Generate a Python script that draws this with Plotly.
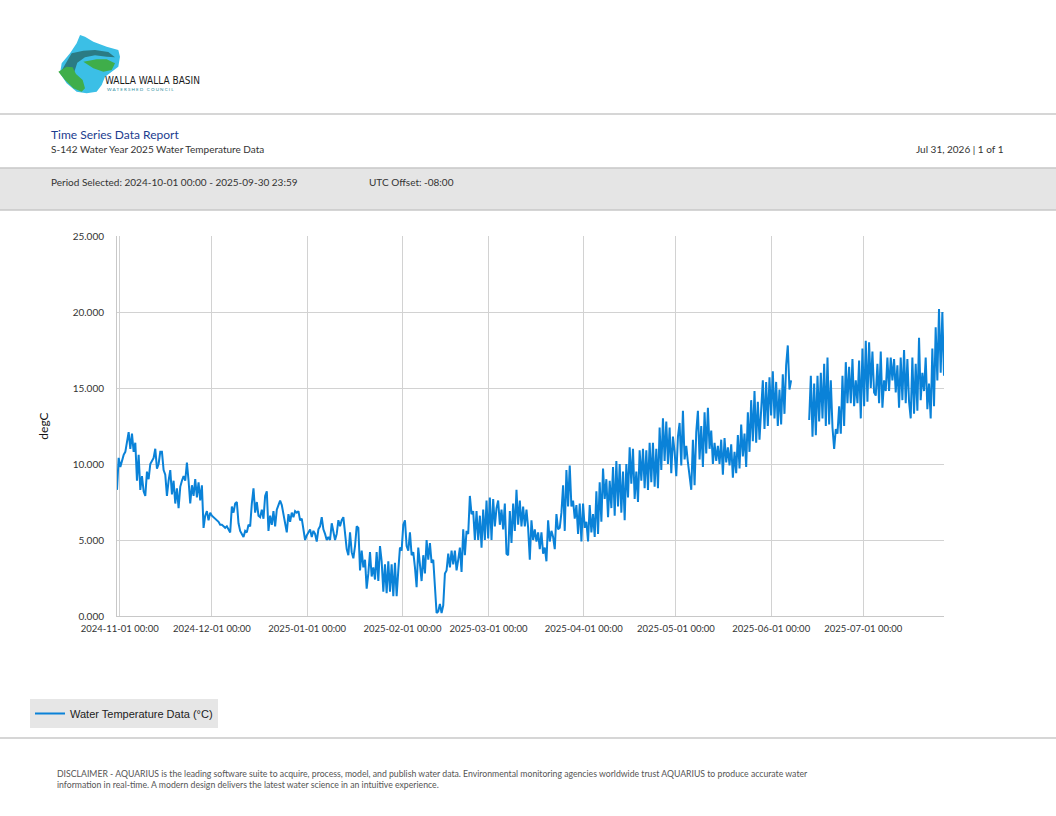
import pandas as pd
import plotly.graph_objects as go

# water temperature (degC) at ~13 h steps
seg1_start = "2024-10-31 03:00"
seg1_values = [
    8.3, 10.4, 9.8, 10.3, 10.6, 10.8, 11.5, 12.1, 11.0, 12.0, 10.8, 11.4, 8.9, 10.6, 8.3, 9.2,
    8.2, 7.9, 9.5, 9.0, 10.0, 10.2, 10.4, 11.0, 9.7, 10.0, 10.8, 10.8, 9.6, 9.3, 7.9, 8.9,
    9.6, 8.0, 8.9, 7.4, 8.4, 7.1, 8.5, 8.9, 9.2, 8.9, 10.1, 8.9, 7.4, 8.6, 7.9, 9.0,
    7.8, 8.8, 7.6, 8.6, 5.8, 6.6, 6.9, 6.3, 6.8, 6.6, 6.5, 6.4, 6.3, 6.2, 6.0, 6.0,
    5.9, 5.8, 5.9, 5.7, 5.5, 7.2, 6.8, 7.4, 7.5, 6.1, 5.6, 5.4, 5.2, 5.6, 5.5, 6.0,
    5.9, 7.4, 8.4, 6.8, 7.5, 6.6, 6.5, 7.0, 6.4, 7.9, 8.2, 5.6, 6.6, 6.0, 6.9, 5.9,
    7.0, 7.3, 7.6, 7.3, 6.7, 6.1, 5.5, 6.7, 6.2, 6.8, 6.5, 6.9, 6.8, 6.9, 6.3, 6.4,
    5.6, 5.0, 5.3, 5.5, 5.7, 5.2, 5.6, 5.4, 4.9, 5.7, 5.9, 6.5, 5.7, 5.4, 5.0, 5.2,
    5.0, 6.1, 5.4, 5.0, 5.4, 6.3, 5.9, 6.3, 6.5, 5.5, 4.4, 4.0, 5.5, 4.2, 3.8, 4.6,
    5.9, 5.8, 3.0, 4.3, 3.2, 3.7, 1.8, 2.8, 4.2, 2.6, 3.2, 2.4, 4.2, 2.3, 4.6, 3.6,
    1.6, 3.4, 1.5, 3.6, 1.6, 3.4, 1.3, 3.5, 1.3, 3.0, 4.5, 4.3, 6.0, 6.3, 4.6, 4.3,
    5.5, 4.0, 4.2, 3.2, 1.9, 4.5, 3.5, 2.3, 4.0, 2.8, 5.0, 3.7, 4.8, 3.5, 3.7, 1.8,
    0.2, 0.3,
    0.8, 0.2, 0.7, 2.8, 3.0, 4.1, 3.2, 4.3, 3.4, 4.3, 3.0, 3.7, 4.5, 2.9, 5.7, 4.0,
    5.6, 5.4, 7.9, 6.7, 6.9, 5.0, 6.9, 5.0, 6.6, 4.5, 7.0, 5.0, 7.6, 5.1, 7.8, 5.0,
    7.7, 5.9, 7.1, 7.6, 6.0, 7.0, 5.7, 7.4, 4.1, 4.0, 6.9, 4.8, 7.4, 5.6, 8.3, 6.0,
    7.6, 5.9, 7.2, 5.9, 7.0, 5.8, 3.7, 6.3, 5.0, 5.7, 4.9, 5.5, 4.4, 5.5, 4.1, 4.5,
    3.6, 6.3, 4.9, 5.6, 5.2, 4.4, 6.7, 5.7, 5.8, 6.8, 8.6, 5.6, 9.6, 7.2, 9.9, 7.2,
    7.6, 6.4, 7.3, 5.4, 7.4, 4.9, 7.4, 5.8, 6.2, 4.9, 7.3, 5.5, 6.7, 5.2, 8.2, 5.4,
    8.8, 6.2, 9.7, 7.7, 9.0, 6.5, 8.9, 7.1, 9.8, 6.6, 10.2, 7.2, 10.0, 6.8, 9.5, 6.3,
    10.0, 7.8, 11.1, 8.7, 11.0, 7.7, 9.5, 7.5, 10.9, 8.9, 11.0, 8.4, 10.9, 8.3, 11.4, 8.8,
    11.4, 8.5, 11.0, 8.4, 12.4, 9.6, 13.0, 10.2, 12.8, 10.0, 12.4, 9.4, 11.8, 10.8, 9.2, 11.8,
    12.7, 9.9, 13.5, 10.3, 11.2, 10.1, 9.0, 8.3, 11.6, 8.6, 12.1, 13.5, 10.3, 12.5, 9.8, 13.4,
    10.7, 13.7, 11.0, 12.2, 10.0, 11.4, 10.2, 11.2, 10.0, 11.6, 9.3, 11.7, 10.1, 11.1, 9.9, 11.3,
    9.1, 10.8, 9.4, 11.9, 9.7, 12.6, 10.5, 12.0, 9.8, 13.4, 10.8, 14.2, 11.5, 14.8, 11.4, 14.1,
    11.6, 14.0, 15.5, 12.3, 15.4, 12.5, 15.7, 13.2, 16.1, 13.0, 15.4, 12.5, 14.9, 12.6, 15.9, 13.3,
    16.5, 17.8, 14.9, 15.5,
]
seg2_start = "2025-06-13 09:00"
seg2_values = [
    12.9, 15.8, 11.8, 15.3, 11.9, 15.8, 12.8, 16.0, 13.0, 16.6, 12.5, 17.0, 12.6, 15.5, 12.4, 11.0,
    12.3, 12.0, 13.8, 12.0, 15.8, 12.5, 16.7, 14.0, 16.4, 14.0, 16.9, 13.8, 15.5, 14.0, 16.8, 13.0,
    17.6, 13.8, 18.1, 14.1, 18.0, 15.0, 17.4, 14.7, 14.5, 16.6, 14.0, 17.4, 13.7, 15.5, 14.8, 17.0,
    14.8, 17.0, 15.5, 16.9, 14.7, 16.5, 13.7, 17.0, 14.2, 17.5, 14.0, 16.9, 14.1, 13.0, 17.0, 13.3,
    16.6, 13.5, 18.3, 14.2, 16.0, 14.8, 17.0, 13.6, 15.3, 13.0, 17.6, 13.8, 19.0, 15.5, 20.2, 16.0,
    20.0, 15.8,
]
step = "13h"

month_ticks = ["2024-11-01", "2024-12-01", "2025-01-01", "2025-02-01", "2025-03-01",
               "2025-04-01", "2025-05-01", "2025-06-01", "2025-07-01"]
y_ticks = [0, 5, 10, 15, 20, 25]

t1 = list(pd.date_range(seg1_start, periods=len(seg1_values), freq=step))
t2 = list(pd.date_range(seg2_start, periods=len(seg2_values), freq=step))
times = t1 + [t1[-1] + pd.Timedelta(step)] + t2
temps = seg1_values + [None] + seg2_values

W, H = 1056, 816
L, R, T, B = 117, 944, 236, 616
FONT = "Lato"


def px(x):
    return (x - L) / (R - L)


def py(y):
    return (B - y) / (B - T)


def path(pts):
    return "M " + " L ".join(f"{px(x):.4f},{py(y):.4f}" for x, y in pts) + " Z"


def logo(pts):
    return [(40 + a / 3, 30 + b / 3) for a, b in pts]


fig = go.Figure()
fig.add_trace(go.Scatter(
    x=times, y=temps, mode="lines", name="Water Temperature Data (°C)",
    line=dict(color="#0a82d8", width=2), connectgaps=False,
))

shapes = []
# rules and grey band of the report page
for y in (114, 738):
    shapes.append(dict(type="line", xref="paper", yref="paper", x0=px(0), x1=px(W), y0=py(y), y1=py(y),
                       line=dict(color="#c8c8c8", width=1.5)))
shapes.append(dict(type="rect", xref="paper", yref="paper", x0=px(-2), x1=px(W + 2), y0=py(168), y1=py(210),
                   fillcolor="#e5e5e5", line=dict(color="#c8c8c8", width=1.5), layer="below"))

# rough logo drawing
logo_parts = [
    ("#3bbfe6", [(120, 15), (135, 20), (160, 35), (200, 50), (235, 60), (240, 80), (235, 110), (215, 125),
                 (195, 140), (185, 165), (170, 185), (140, 190), (110, 185), (80, 160), (60, 130), (65, 100),
                 (90, 70), (110, 40)]),
    ("#2b7b84", [(60, 130), (95, 70), (130, 62), (165, 60), (205, 66), (225, 82), (200, 80), (165, 76),
                 (135, 82), (112, 98), (102, 128), (112, 160), (105, 168), (80, 150)]),
    ("#3fae4a", [(130, 95), (170, 88), (200, 88), (225, 100), (215, 120), (190, 125), (160, 115)]),
    ("#3fae4a", [(55, 125), (80, 110), (98, 112), (108, 132), (128, 150), (135, 175), (125, 185),
                 (100, 175), (75, 150)]),
]
for color, pts in logo_parts:
    shapes.append(dict(type="path", xref="paper", yref="paper", line=dict(width=0), fillcolor=color,
                       path=path(logo(pts))))

annotations = [
    dict(text="WALLA WALLA BASIN", x=px(103), y=py(80), xanchor="left", yanchor="middle",
         font=dict(family="DejaVu Sans Condensed", size=10, color="#1a1a1a")),
    dict(text="W A T E R S H E D   C O U N C I L", x=px(105), y=py(89), xanchor="left", yanchor="middle",
         font=dict(family=FONT, size=4.5, color="#2b8ea0")),
    dict(text="Time Series Data Report", x=px(49), y=py(134), xanchor="left", yanchor="middle",
         font=dict(family=FONT, size=12, color="#1c3d8f")),
    dict(text="S-142 Water Year 2025 Water Temperature Data", x=px(49), y=py(149), xanchor="left",
         yanchor="middle", font=dict(family=FONT, size=10, color="#333333")),
    dict(text="Jul 31, 2026 | 1 of 1", x=px(1006), y=py(149), xanchor="right", yanchor="middle",
         font=dict(family=FONT, size=10, color="#333333")),
    dict(text="Period Selected: 2024-10-01 00:00 - 2025-09-30 23:59", x=px(49), y=py(182), xanchor="left",
         yanchor="middle", font=dict(family=FONT, size=10, color="#333333")),
    dict(text="UTC Offset: -08:00", x=px(367), y=py(182), xanchor="left", yanchor="middle",
         font=dict(family=FONT, size=10, color="#333333")),
    dict(text="DISCLAIMER - AQUARIUS is the leading software suite to acquire, process, model, and publish water "
              "data. Environmental monitoring agencies worldwide trust AQUARIUS to produce accurate water<br>"
              "information in real-time. A modern design delivers the latest water science in an intuitive "
              "experience.",
         x=px(55), y=py(779), xanchor="left", yanchor="middle", align="left",
         font=dict(family=FONT, size=8.7, color="#555555")),
]
for a in annotations:
    a.update(xref="paper", yref="paper", showarrow=False)

fig.update_layout(
    width=W, height=H, margin=dict(l=L, r=W - R, t=T, b=H - B),
    paper_bgcolor="white", plot_bgcolor="white",
    font=dict(family=FONT, size=10, color="#333333"),
    showlegend=True,
    legend=dict(x=px(30), y=py(699), xanchor="left", yanchor="top", bgcolor="#e6e6e6",
                font=dict(family="Liberation Sans", size=11, color="#222222"), itemwidth=30,
                borderwidth=0),
    shapes=shapes, annotations=annotations,
)
fig.update_xaxes(
    type="date", range=[times[0], times[-1]], tickvals=month_ticks, tickformat="%Y-%m-%d %H:%M",
    showgrid=True, gridcolor="#d2d2d2", showline=True, linecolor="#c8c8c8", zeroline=False,
    ticks="", ticklabelstandoff=4, tickfont=dict(size=9.5, color="#333333"),
)
fig.update_yaxes(
    range=[0, 25], tickvals=y_ticks, tickformat=".3f",
    showgrid=True, gridcolor="#d2d2d2", showline=True, linecolor="#c8c8c8", zeroline=False,
    ticks="", ticklabelstandoff=10, tickfont=dict(size=10, color="#333333"),
    title=dict(text="degC", font=dict(family=FONT, size=12, color="#111111"), standoff=21),
)

fig.write_html("out.html", config={"displayModeBar": False},
               post_script="document.body.style.margin = '0';")
